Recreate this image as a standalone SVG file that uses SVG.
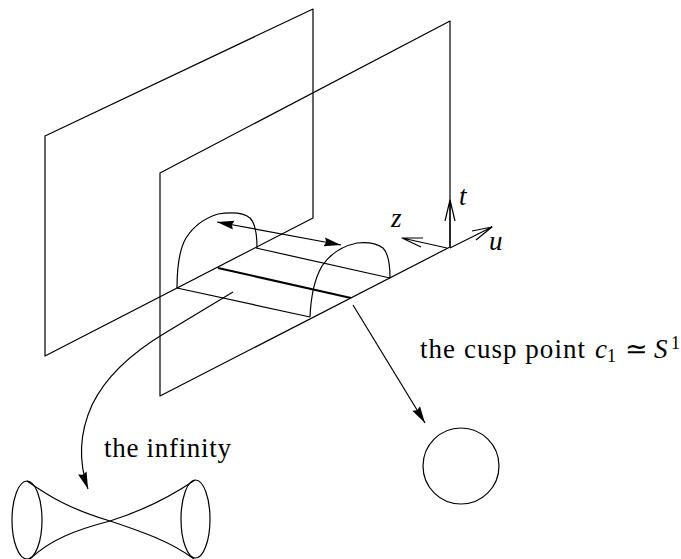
<svg xmlns="http://www.w3.org/2000/svg" width="681" height="559" viewBox="0 0 681 559">
<style>
.l{fill:none;stroke:#000;stroke-width:1.2;stroke-linejoin:round}
.b{fill:none;stroke:#000;stroke-width:2}
text{font-family:"Liberation Serif","Times New Roman",serif;font-size:27px;fill:#000}
.i{font-style:italic}
.s{font-size:18px}
</style>
<defs>
<marker id="fe" markerUnits="userSpaceOnUse" markerWidth="20" markerHeight="12" refX="17" refY="6" orient="auto-start-reverse"><path d="M0 1.500L17 6L0 10.500L2 6Z" fill="#000"/></marker>
</defs>
<rect width="681" height="559" fill="#fff"/>
<g id="plane-back"><path class="l" d="M45 136L313 9V218L45 356Z"/></g>
<g id="plane-front"><path class="l" d="M160 173L450 21V247L160 396Z"/></g>
<g id="strip">
<path class="l" d="M177 288L310 317"/>
<path class="l" d="M256 248L390 278"/>
<path class="b" d="M218 268L351 298"/>
</g>
<g id="arc-left"><path class="l" d="M177 288C177 268 179 250 186 238C193 227 205 218 218 214C232 212 243 212 250 218C256 224 257 235 257 248"/></g>
<g id="arc-right"><path class="l" d="M310 317C311 293 315 278 322 266C330 254 343 246 357 243C367 242 376 243 383 248C389 254 390 265 390 278"/></g>
<g id="circle"><circle class="l" cx="461" cy="466" r="38"/></g>
<g id="cone-left"><ellipse class="l" cx="27" cy="520" rx="15" ry="39"/></g>
<g id="cone-right"><ellipse class="l" cx="195.500" cy="519" rx="14.500" ry="39"/></g>
<g id="cone-neck">
<path class="l" d="M27 481C50 497 70 509 110 521C140 531 170 541 194 559"/>
<path class="l" d="M30 559C50 540 75 530 110 521C145 510 170 497 195 480"/>
</g>
<g id="connectors">
<path class="l" d="M217 222L341 245" marker-start="url(#fe)" marker-end="url(#fe)"/>
<path class="l" d="M233 292L165 333C130 354 105 378 92 405C83 425 76 455 88 489" marker-end="url(#fe)"/>
<path class="l" d="M353 305L425 423" marker-end="url(#fe)"/>
<path class="l" d="M450 247V200M445 221L450 200L455 221"/>
<path class="l" d="M450 248L492 227M472 231L492 227L476 240"/>
<path class="l" d="M447 248L402 238M423 238L402 238L421 247"/>
</g>
<g id="labels">
<text class="i" x="459" y="205">t</text>
<text class="i" x="391" y="227">z</text>
<text class="i" x="489" y="250">u</text>
<text x="420" y="358" textLength="165" lengthAdjust="spacing">the cusp point</text>
<text class="i" x="595" y="358">c</text>
<text class="s" x="607" y="362">1</text>
<text x="625" y="358">≃</text>
<text class="i" x="654" y="358">S</text>
<text class="s" x="671" y="349">1</text>
<text x="104" y="457" textLength="127" lengthAdjust="spacing">the infinity</text>
</g>
</svg>
